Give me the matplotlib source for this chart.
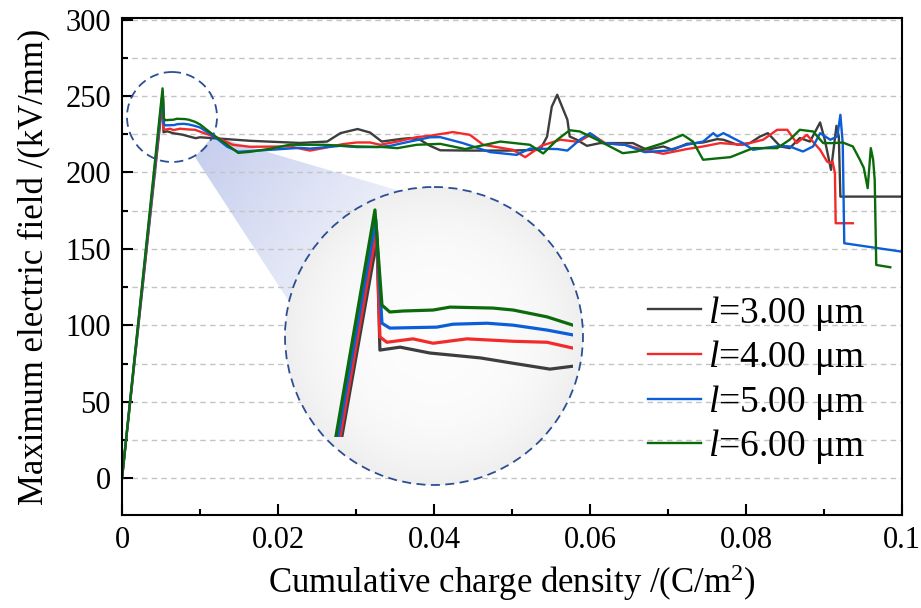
"""Maximum electric field vs cumulative charge density, four electrode gaps, with magnified inset"""
import numpy as np
import matplotlib
matplotlib.use('Agg')
import matplotlib.pyplot as plt
from matplotlib.patches import Circle, Polygon
from matplotlib.ticker import MultipleLocator, FuncFormatter

plt.rcParams['font.family'] = 'Liberation Serif'
plt.rcParams['mathtext.fontset'] = 'custom'
plt.rcParams['mathtext.rm'] = 'Liberation Serif'
plt.rcParams['mathtext.it'] = 'Liberation Serif:italic'

LABELS = [r'$l$=3.00 μm', r'$l$=4.00 μm', r'$l$=5.00 μm', r'$l$=6.00 μm']
COLORS = ['#3d3d3d', '#f42a2a', '#0b5ed7', '#0b6b0b']

# l = 3.00 um
x_l3 = [0, 0.00525, 0.00532, 0.00581, 0.00653, 0.00775, 0.00855, 0.00944, 0.0100,
        0.0129, 0.0164, 0.0228, 0.0263, 0.0280, 0.0302, 0.0318, 0.0333, 0.0356, 0.0369,
        0.0382, 0.0395, 0.0408, 0.0450, 0.0497, 0.0536, 0.0545, 0.0551, 0.0558, 0.0565,
        0.0571, 0.0574, 0.0583, 0.0596, 0.0613, 0.0655, 0.0673, 0.0694, 0.0706, 0.0724,
        0.0745, 0.0763, 0.0771, 0.0789, 0.0805, 0.0818, 0.0828, 0.0844, 0.0856, 0.0869,
        0.0882, 0.0895, 0.0901, 0.0909, 0.0916, 0.0919, 0.0921, 0.1000]
y_l3 = [0, 249.0, 226.3, 226.9, 225.7, 224.7, 223.6, 222.4, 223.0,
        222.0, 220.7, 219.3, 220.2, 225.7, 228.4, 226.1, 220.2, 221.8, 222.5,
        221.4, 217.4, 214.5, 214.3, 214.3, 214.8, 223.5, 243.0, 250.8, 242.0,
        234.5, 223.5, 221.4, 217.4, 219.2, 219.2, 214.8, 217.0, 214.8, 218.7,
        219.6, 221.8, 221.4, 218.1, 219.2, 223.5, 225.7, 217.0, 215.9, 222.5,
        220.2, 232.7, 221.4, 201.7, 230.5, 223.5, 184.2, 184.2]

# l = 4.00 um
x_l4 = [0, 0.00524, 0.00532, 0.00549, 0.00612, 0.00661, 0.00743, 0.00855, 0.00937, 0.0100,
        0.0122, 0.0142, 0.0164, 0.0215, 0.0241, 0.0258, 0.0283, 0.0301, 0.0318, 0.0331,
        0.0353, 0.0378, 0.0395, 0.0424, 0.0446, 0.0463, 0.0501, 0.0517, 0.0538, 0.0562,
        0.0585, 0.0602, 0.0620, 0.0645, 0.0668, 0.0694, 0.0724, 0.0745, 0.0767, 0.0796,
        0.0822, 0.0840, 0.0853, 0.0865, 0.0878, 0.0895, 0.0904, 0.0908, 0.0911, 0.0914,
        0.0915, 0.0937]
y_l4 = [0, 251.0, 229.0, 227.9, 228.6, 227.7, 228.6, 228.1, 227.9, 226.7,
        222.7, 218.1, 216.8, 217.0, 214.3, 215.9, 218.5, 219.6, 219.6, 218.1,
        220.2, 223.1, 224.0, 226.4, 224.6, 218.1, 214.8, 210.0, 217.5, 221.4,
        220.0, 225.0, 219.0, 218.1, 214.8, 212.2, 215.3, 217.0, 219.2, 218.1,
        221.4, 227.9, 227.9, 219.2, 224.6, 214.8, 207.1, 206.1, 207.1, 199.5,
        166.8, 166.8]

# l = 5.00 um
x_l5 = [0, 0.00522, 0.00537, 0.00556, 0.00670, 0.00709, 0.00792, 0.00855, 0.00937, 0.0100,
        0.0117, 0.0135, 0.0149, 0.0190, 0.0228, 0.0241, 0.0280, 0.0301, 0.0327, 0.0344,
        0.0369, 0.0395, 0.0408, 0.0437, 0.0472, 0.0506, 0.0523, 0.0558, 0.0571, 0.0587,
        0.0600, 0.0617, 0.0645, 0.0670, 0.0699, 0.0724, 0.0745, 0.0758, 0.0763, 0.0771,
        0.0796, 0.0809, 0.0822, 0.0844, 0.0856, 0.0873, 0.0886, 0.0895, 0.0908, 0.0917,
        0.0921, 0.0924, 0.0926, 0.1000]
y_l5 = [0, 253.0, 231.8, 230.8, 231.0, 231.6, 231.8, 231.4, 230.4, 229.4,
        224.0, 216.8, 213.5, 214.8, 216.1, 215.6, 217.4, 216.6, 216.6, 217.4,
        220.2, 223.0, 223.1, 219.2, 213.3, 211.5, 215.6, 215.3, 214.3, 221.4,
        225.7, 219.2, 218.0, 213.3, 214.3, 218.1, 220.2, 225.7, 223.5, 225.7,
        219.2, 214.8, 215.9, 217.4, 217.0, 213.7, 217.0, 225.7, 221.4, 223.5,
        237.7, 219.2, 153.7, 148.2]

# l = 6.00 um
x_l6 = [0, 0.0052, 0.00537, 0.00556, 0.00588, 0.00661, 0.00702, 0.00806, 0.00855, 0.00937,
        0.0100, 0.0117, 0.0135, 0.0149, 0.0164, 0.0190, 0.0215, 0.0258, 0.0301, 0.0335,
        0.0353, 0.0378, 0.0408, 0.0440, 0.0485, 0.0523, 0.0540, 0.0558, 0.0574, 0.0587,
        0.0609, 0.0642, 0.0660, 0.0694, 0.0719, 0.0732, 0.0745, 0.0767, 0.0780, 0.0809,
        0.0840, 0.0856, 0.0869, 0.0886, 0.0899, 0.0912, 0.0924, 0.0937, 0.0946, 0.0951,
        0.0956, 0.0960, 0.0963, 0.0965, 0.0967, 0.0985]
y_l6 = [0, 255.0, 235.5, 234.1, 234.3, 234.5, 235.1, 234.9, 234.5, 233.1,
        231.4, 224.6, 218.1, 212.8, 213.5, 215.5, 218.1, 218.1, 217.0, 216.6,
        215.9, 218.1, 218.7, 215.3, 220.2, 218.1, 212.4, 221.4, 227.6, 226.8,
        221.4, 212.6, 213.7, 219.2, 224.6, 220.2, 208.3, 209.4, 210.0, 215.9,
        215.9, 221.4, 227.9, 226.8, 219.2, 219.2, 219.6, 217.0, 208.3, 203.0,
        189.7, 215.9, 208.3, 195.2, 139.5, 138.0]

SERIES = [(x_l3, y_l3), (x_l4, y_l4), (x_l5, y_l5), (x_l6, y_l6)]

W, H = 921, 608
fig = plt.figure(figsize=(W / 100, H / 100), dpi=100)

# zoom-circle geometry in figure pixels (decoration only)
C_SMALL, R_SMALL = np.array([172.0, 117.0]), 45
C_BIG, R_BIG = np.array([434.0, 336.0]), 149
EDGE = '#2c4f93'

# ---- bottom layer: blue "light cone" from small circle to magnifier
bg = fig.add_axes([0, 0, 1, 1], zorder=0)
bg.set_xlim(0, W); bg.set_ylim(H, 0); bg.axis('off')
cone = Polygon([(213, 136), (400, 191), tuple(C_BIG), (288, 300), (195, 157)],
               closed=True, facecolor='none', edgecolor='none')
bg.add_patch(cone)
gx, gy = np.meshgrid(np.arange(W) + 0.5, np.arange(H) + 0.5)
p0, p1 = np.array([200.0, 150.0]), np.array([370.0, 270.0])
u = (p1 - p0) / np.hypot(*(p1 - p0))
t = np.clip(((gx - p0[0]) * u[0] + (gy - p0[1]) * u[1]) / np.hypot(*(p1 - p0)), 0, 1)
img = np.zeros((H, W, 4))
img[..., 0] = 160 / 255; img[..., 1] = 174 / 255; img[..., 2] = 226 / 255
img[..., 3] = 0.6 * (1 - 0.75 * t)
im = bg.imshow(img, extent=(0, W, H, 0), origin='upper', interpolation='bilinear')
im.set_clip_path(cone)
bg.set_xlim(0, W); bg.set_ylim(H, 0)

# ---- main axes
ax = fig.add_axes([122 / W, 1 - 515 / H, 780 / W, 497 / H], zorder=1)
ax.patch.set_visible(False)
for (xs, ys), c, lab in zip(SERIES, COLORS, LABELS):
    ax.plot(xs, ys, color=c, lw=1.7, label=lab)

ax.set_xlim(0, 0.1)
ax.set_ylim(-24, 301)
ax.xaxis.set_major_locator(MultipleLocator(0.02))
ax.xaxis.set_minor_locator(MultipleLocator(0.01))
ax.yaxis.set_major_locator(MultipleLocator(50))
ax.yaxis.set_minor_locator(MultipleLocator(25))
ax.xaxis.set_major_formatter(FuncFormatter(lambda v, p: f'{v:g}'))
ax.tick_params(which='both', direction='in', top=False, right=False, width=1.5, labelsize=22)
ax.tick_params(which='major', length=8, pad=8)
ax.tick_params(which='minor', length=4)
for s in ax.spines.values():
    s.set_linewidth(1.5)
ax.yaxis.grid(True, which='both', linestyle=(0, (4, 3)), color='#c4c4c4', lw=1)
ax.set_axisbelow(True)
ax.set_xlabel('Cumulative charge density /(C/m$^2$)', fontsize=25, labelpad=5)
ax.set_ylabel('Maximum electric field /(kV/mm)', fontsize=25, labelpad=10)
ax.legend(loc='center left', bbox_to_anchor=((648 - 122) / 780, 1 - (380 - 18) / 497),
          frameon=False, fontsize=27, handlelength=1.4, handletextpad=0.2,
          labelspacing=0.15, borderpad=0, borderaxespad=0)

# ---- top layer: magnifier disc and dashed circles
top = fig.add_axes([0, 0, 1, 1], zorder=2)
top.set_xlim(0, W); top.set_ylim(H, 0); top.axis('off')
disc = Circle(tuple(C_BIG), R_BIG, facecolor='none', edgecolor='none')
top.add_patch(disc)
bx0, bx1 = C_BIG[0] - R_BIG, C_BIG[0] + R_BIG
by0, by1 = C_BIG[1] - R_BIG, C_BIG[1] + R_BIG
xx, yy = np.meshgrid(np.linspace(bx0, bx1, 300), np.linspace(by0, by1, 300))
rr = np.clip(np.hypot(xx - C_BIG[0], yy - C_BIG[1]) / R_BIG, 0, 1)
shade = 0.99 - 0.055 * rr ** 3
dimg = np.dstack([shade, shade, shade])
di = top.imshow(dimg, extent=(bx0, bx1, by1, by0), origin='upper', interpolation='bilinear')
di.set_clip_path(disc)
top.add_patch(Circle(tuple(C_BIG), R_BIG, fill=False, edgecolor=EDGE, lw=1.3,
                     linestyle=(0, (5, 3))))
top.add_patch(Circle(tuple(C_SMALL), R_SMALL, fill=False, edgecolor=EDGE, lw=1.3,
                     linestyle=(0, (5, 3))))
top.set_xlim(0, W); top.set_ylim(H, 0)

# ---- magnified view of the first peak
ins = fig.add_axes([285 / W, 1 - 437 / H, (573 - 285) / W, (437 - 186) / H], zorder=3)
ins.axis('off')
for (xs, ys), c in zip(SERIES, COLORS):
    ins.plot(xs, ys, color=c, lw=2.3)
ins.set_xlim(0.00302, 0.0100)
ins.set_ylim(208.5, 259.9)

fig.savefig('out.png', dpi=100)
